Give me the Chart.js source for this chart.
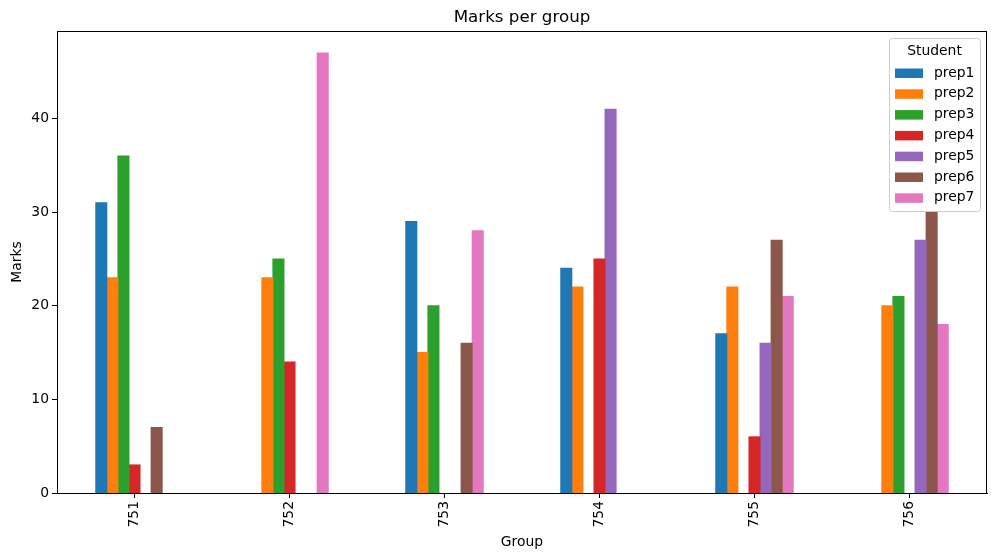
<!DOCTYPE html>
<html>
<head>
<meta charset="utf-8">
<script src="https://cdn.jsdelivr.net/npm/chart.js@4"></script>
<style>
  html, body { margin: 0; padding: 0; background: #fff; }
  #wrap { width: 996px; height: 559px; }
</style>
</head>
<body>
<div id="wrap"><canvas id="marksChart"></canvas></div>
<script>
// -- DATA --
const groups = ['751', '752', '753', '754', '755', '756'];
const students = ['prep1', 'prep2', 'prep3', 'prep4', 'prep5', 'prep6', 'prep7'];
const prep1 = [31, null, 29, 24, 17, null];
const prep2 = [23, 23, 15, 22, 22, 20];
const prep3 = [36, 25, 20, null, null, 21];
const prep4 = [3, 14, null, 25, 6, null];
const prep5 = [null, null, null, 41, 16, 27];
const prep6 = [7, null, 16, null, 27, 30];
const prep7 = [null, 47, 28, null, 21, 18];
const yTicks = [0, 10, 20, 30, 40];

const colors = ['#1f77b4', '#ff7f0e', '#2ca02c', '#d62728', '#9467bd', '#8c564b', '#e377c2'];
const series = [prep1, prep2, prep3, prep4, prep5, prep6, prep7];
const FONT = "'DejaVu Sans', sans-serif";
const FS = 13.9;

// title, frame and legend drawn inside the axes like matplotlib does
const axesDecor = {
    id: 'axesDecor',
    afterDraw(chart) {
        const ctx = chart.ctx;
        const a = chart.chartArea;
        ctx.save();

        // frame
        ctx.strokeStyle = '#000';
        ctx.lineWidth = 1;
        ctx.strokeRect(a.left + 0.5, a.top + 0.5, a.right - a.left - 1, a.bottom - a.top);

        // title
        ctx.fillStyle = '#000';
        ctx.font = '16.7px ' + FONT;
        ctx.textAlign = 'center';
        ctx.textBaseline = 'middle';
        ctx.fillText('Marks per group', (a.left + a.right) / 2, 18);

        // legend box
        const bx = a.right - 98, by = a.top + 7, bw = 91, bh = 173;
        ctx.beginPath();
        ctx.roundRect(bx + 0.5, by + 0.5, bw, bh, 3);
        ctx.fillStyle = 'rgba(255,255,255,0.8)';
        ctx.fill();
        ctx.strokeStyle = '#cccccc';
        ctx.stroke();

        ctx.font = FS + 'px ' + FONT;
        ctx.fillStyle = '#000';
        ctx.fillText('Student', bx + bw / 2, by + 13);

        chart.data.datasets.forEach((ds, i) => {
            const cy = by + 35 + i * 20.8;
            ctx.fillStyle = ds.backgroundColor;
            ctx.fillRect(bx + 6, cy - 4.5, 28, 9.5);
            ctx.fillStyle = '#000';
            ctx.textAlign = 'left';
            ctx.fillText(ds.label, bx + 45, cy);
        });
        ctx.restore();
    }
};

new Chart(document.getElementById('marksChart'), {
    type: 'bar',
    data: {
        labels: groups,
        datasets: students.map((s, i) => ({
            label: s,
            data: series[i],
            backgroundColor: colors[i],
            borderWidth: 0,
            inflateAmount: 0.5,
            categoryPercentage: 0.5,
            barPercentage: 1.0
        }))
    },
    options: {
        responsive: true,
        maintainAspectRatio: false,
        animation: false,
        layout: { padding: { left: 0, right: 9, top: 31, bottom: 0 } },
        plugins: {
            legend: { display: false },
            title: { display: false },
            tooltip: { enabled: false }
        },
        scales: {
            x: {
                grid: { offset: false, drawOnChartArea: false, drawTicks: true, tickLength: 5, color: '#000' },
                border: { color: '#000', width: 1 },
                ticks: { color: '#000', font: { family: FONT, size: FS }, minRotation: 90, maxRotation: 90, padding: 3 },
                title: { display: true, text: 'Group', color: '#000', font: { family: FONT, size: FS }, padding: { top: 0, bottom: 8 } },
                afterFit(scale) { scale.height = 66; }
            },
            y: {
                min: 0,
                max: 49.35,
                grid: { drawOnChartArea: false, drawTicks: true, tickLength: 5, color: '#000' },
                border: { color: '#000', width: 1 },
                ticks: { color: '#000', font: { family: FONT, size: FS }, stepSize: 10, padding: 3 },
                afterBuildTicks(scale) { scale.ticks = yTicks.map(v => ({ value: v })); },
                title: { display: true, text: 'Marks', color: '#000', font: { family: FONT, size: FS }, padding: { top: 9, bottom: 0 } },
                afterFit(scale) { scale.width = 57; }
            }
        }
    },
    plugins: [axesDecor]
});
</script>
</body>
</html>
